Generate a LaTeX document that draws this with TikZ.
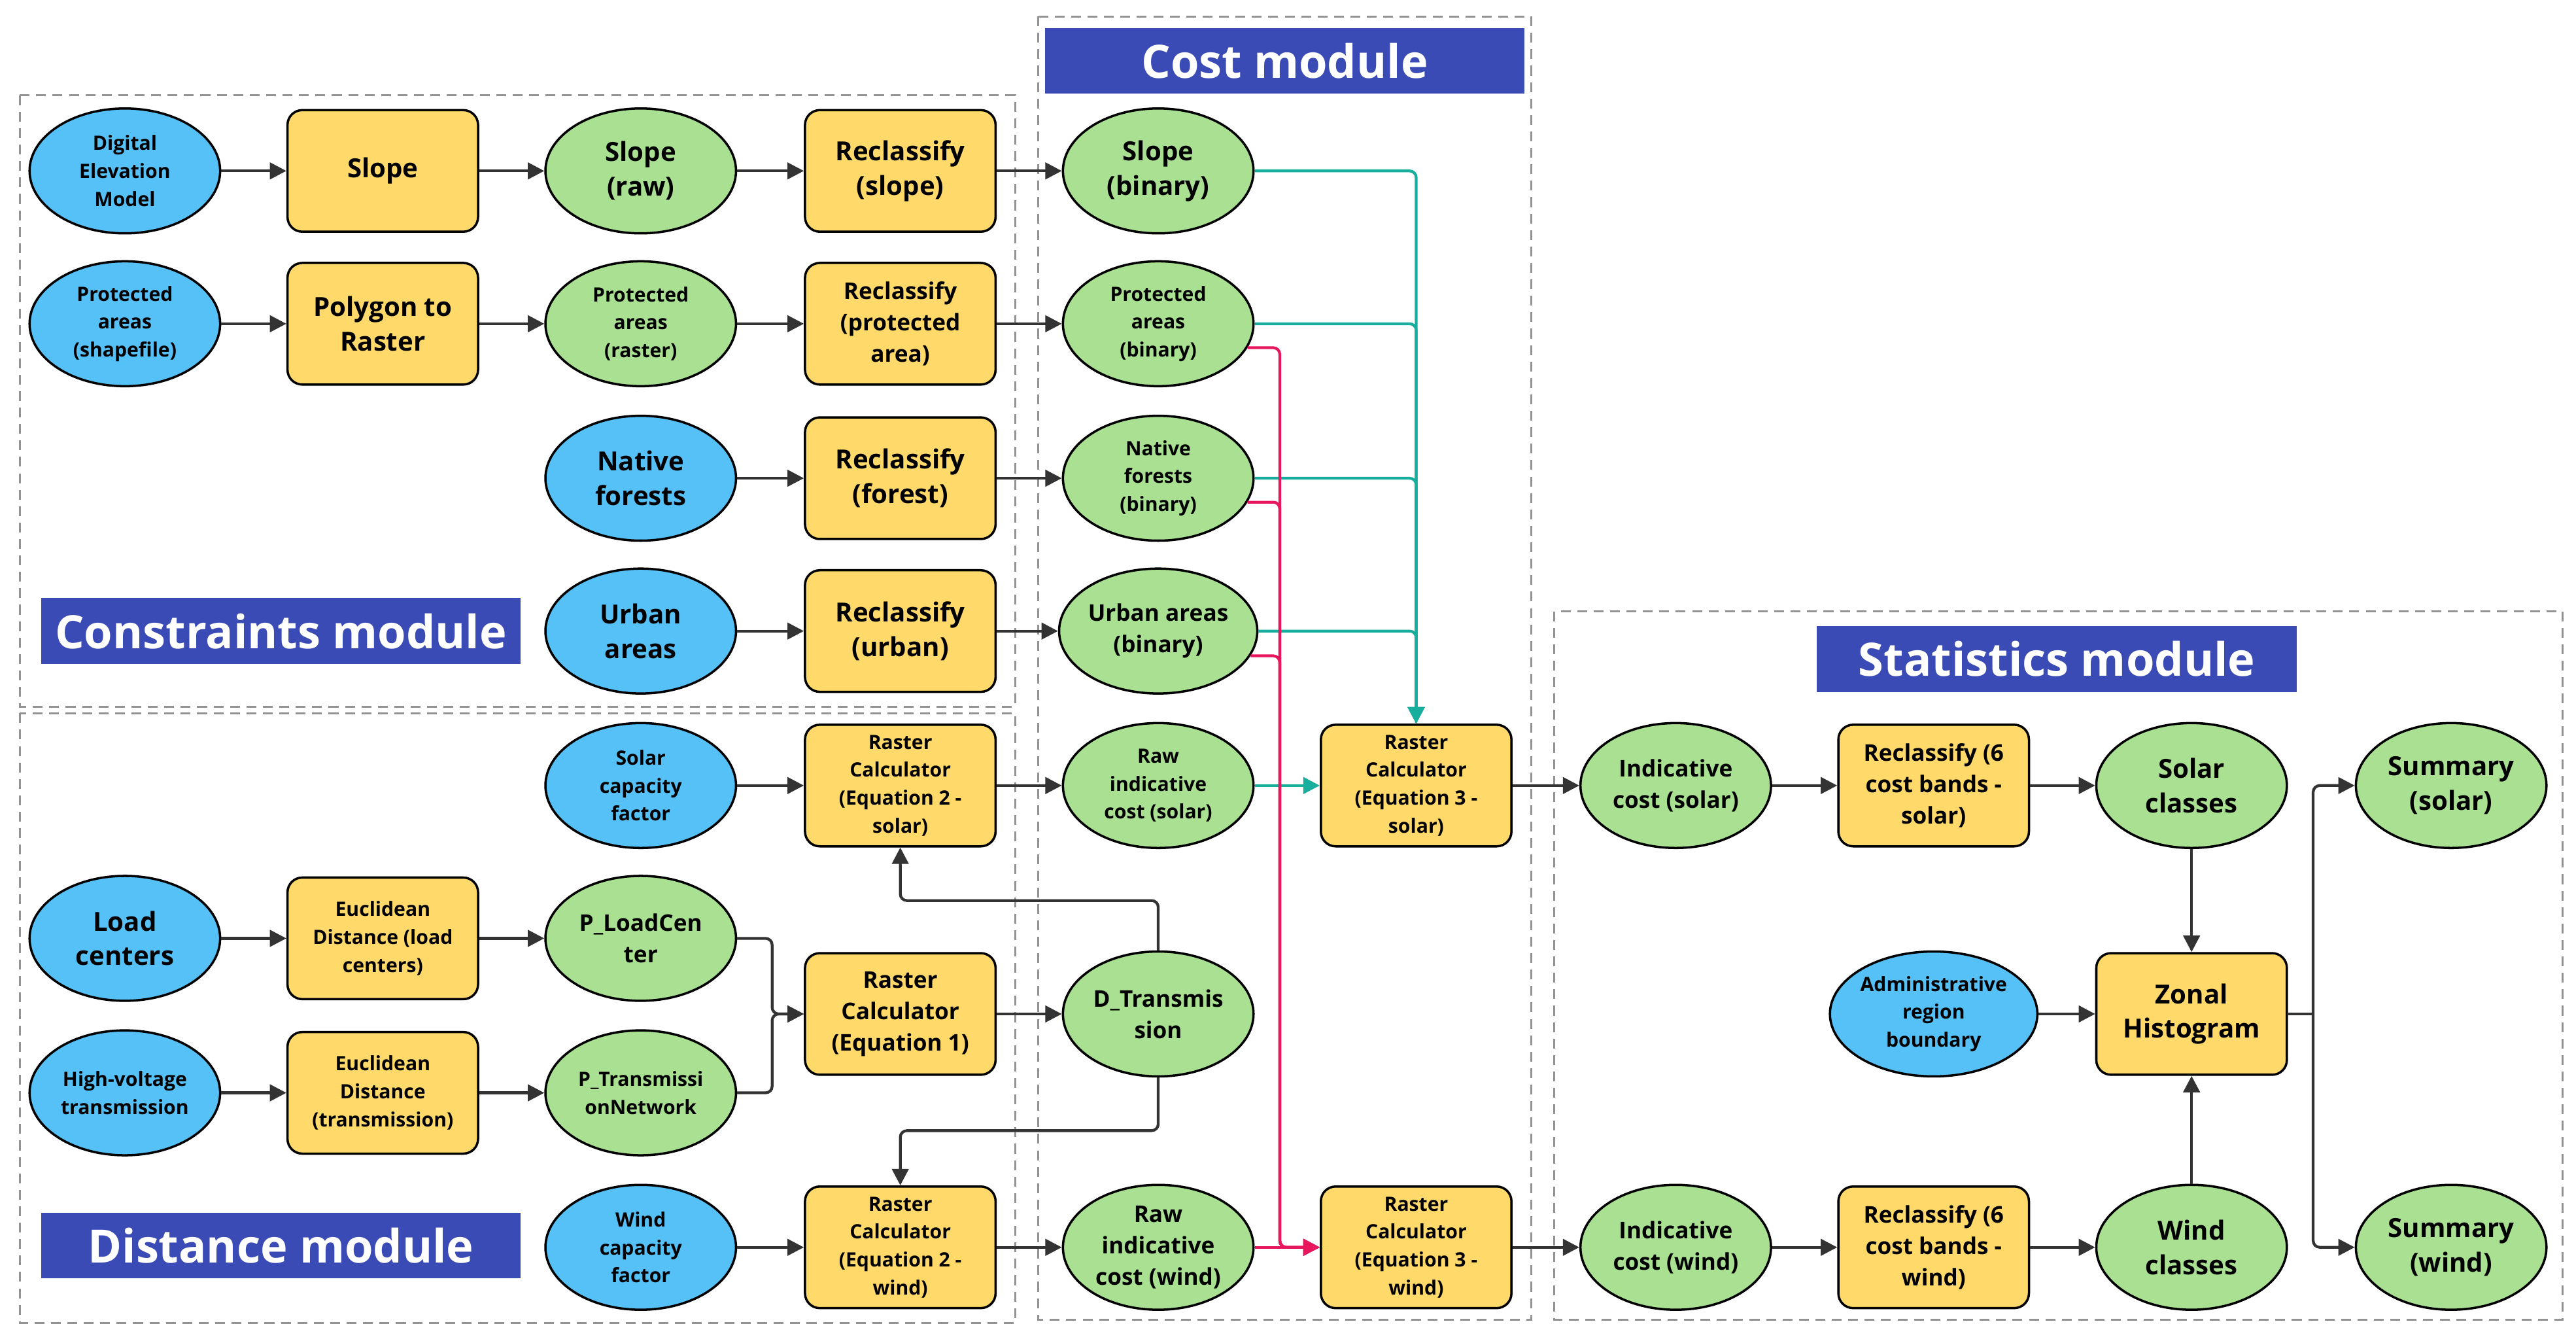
\documentclass[tikz,border=0pt]{standalone}
\usepackage{fontspec}
\setmainfont{Open Sans}
\usetikzlibrary{arrows.meta,calc,shapes.geometric}
\definecolor{cblue}{HTML}{56C1F7}
\definecolor{cgreen}{HTML}{A9E092}
\definecolor{cyel}{HTML}{FFDA6A}
\definecolor{ctitle}{HTML}{3B4BB5}
\definecolor{cteal}{HTML}{17AE9E}
\definecolor{cpink}{HTML}{E8175D}
\definecolor{cdark}{HTML}{333333}
\tikzset{
 base/.style={draw=black,line width=1.4pt,align=center,font=\bfseries,inner sep=0pt,minimum width=116pt},
 el/.style={base,ellipse,minimum height=76pt},
 bl/.style={el,fill=cblue},
 gr/.style={el,fill=cgreen},
 ye/.style={base,rectangle,rounded corners=9pt,fill=cyel,minimum height=74pt},
 L/.style={font=\bfseries\fontsize{16}{21}\selectfont},
 M/.style={font=\bfseries\fontsize{14}{19}\selectfont},
 S/.style={font=\bfseries\fontsize{12}{17}\selectfont},
 ar/.style={draw=cdark,line width=1.7pt,rounded corners=4pt,-{Triangle[width=10pt,length=10pt]}},
 ln/.style={draw=cdark,line width=1.7pt,rounded corners=4pt},
 te/.style={ar,draw=cteal,color=cteal},
 pk/.style={ar,draw=cpink,color=cpink},
 box/.style={draw=gray!85,line width=1.2pt,dash pattern=on 6pt off 4pt},
 ttl/.style={fill=ctitle,text=white,font=\bfseries\fontsize{28}{32}\selectfont,inner sep=0pt,minimum height=40pt,minimum width=292pt}
}
\begin{document}
\begin{tikzpicture}[x=1pt,y=-1pt]
\useasboundingbox (0,0) rectangle (1568,817);
\fill[white] (0,0) rectangle (1568,817);
% boxes
\draw[box] (12,58) rectangle (618,430);
\draw[box] (12,434) rectangle (618,805);
\draw[box] (632,10) rectangle (932,803);
\draw[box] (946,372) rectangle (1560,803);
\node[ttl] (tc) at (782,37) {Cost module};
\node[ttl] (tk) at (171,384) {Constraints module};
\node[ttl] (td) at (171,758) {Distance module};
\node[ttl] (ts) at (1252,401) {Statistics module};
% row 1
\node[bl,S] (dem) at (76,104) {Digital\\Elevation\\Model};
\node[ye,L] (slp) at (233,104) {Slope};
\node[gr,L] (sr) at (390,104) {Slope\\(raw)};
\node[ye,L] (rs) at (548,104) {Reclassify\\(slope)};
\node[gr,L] (sb) at (705,104) {Slope\\(binary)};
% row 2
\node[bl,S] (pas) at (76,197) {Protected\\areas\\(shapefile)};
\node[ye,L] (ptr) at (233,197) {Polygon to\\Raster};
\node[gr,S] (par) at (390,197) {Protected\\areas\\(raster)};
\node[ye,M] (rpa) at (548,197) {Reclassify\\(protected\\area)};
\node[gr,S] (pb) at (705,197) {Protected\\areas\\(binary)};
% row 3
\node[bl,L] (nf) at (390,291) {Native\\forests};
\node[ye,L] (rf) at (548,291) {Reclassify\\(forest)};
\node[gr,S] (nb) at (705,291) {Native\\forests\\(binary)};
% row 4
\node[bl,L] (ua) at (390,384) {Urban\\areas};
\node[ye,L] (ru) at (548,384) {Reclassify\\(urban)};
\node[gr,M] (ub) at (705,384) {Urban areas\\(binary)};
% row 5
\node[bl,S] (scf) at (390,478) {Solar\\capacity\\factor};
\node[ye,S] (rc2s) at (548,478) {Raster\\Calculator\\(Equation 2 -\\solar)};
\node[gr,S] (rics) at (705,478) {Raw\\indicative\\cost (solar)};
\node[ye,S] (rc3s) at (862,478) {Raster\\Calculator\\(Equation 3 -\\solar)};
\node[gr,M] (ics) at (1020,478) {Indicative\\cost (solar)};
\node[ye,M] (r6s) at (1177,478) {Reclassify (6\\cost bands -\\solar)};
\node[gr,L] (sc) at (1334,478) {Solar\\classes};
\node[gr,L] (sums) at (1492,478) {Summary\\(solar)};
% row 6
\node[bl,L] (lc) at (76,571) {Load\\centers};
\node[ye,S] (edl) at (233,571) {Euclidean\\Distance (load\\centers)};
\node[gr,M] (plc) at (390,571) {P\_LoadCen\\ter};
\node[ye,M] (rc1) at (548,617) {Raster\\Calculator\\(Equation 1)};
\node[gr,M] (dt) at (705,617) {D\_Transmis\\sion};
\node[bl,S] (adm) at (1177,617) {Administrative\\region\\boundary};
\node[ye,L] (zh) at (1334,617) {Zonal\\Histogram};
% row 7
\node[bl,S] (hv) at (76,665) {High-voltage\\transmission};
\node[ye,S] (edt) at (233,665) {Euclidean\\Distance\\(transmission)};
\node[gr,S] (ptn) at (390,665) {P\_Transmissi\\onNetwork};
% row 8
\node[bl,S] (wcf) at (390,759) {Wind\\capacity\\factor};
\node[ye,S] (rc2w) at (548,759) {Raster\\Calculator\\(Equation 2 -\\wind)};
\node[gr,M] (ricw) at (705,759) {Raw\\indicative\\cost (wind)};
\node[ye,S] (rc3w) at (862,759) {Raster\\Calculator\\(Equation 3 -\\wind)};
\node[gr,M] (icw) at (1020,759) {Indicative\\cost (wind)};
\node[ye,M] (r6w) at (1177,759) {Reclassify (6\\cost bands -\\wind)};
\node[gr,L] (wc) at (1334,759) {Wind\\classes};
\node[gr,L] (sumw) at (1492,759) {Summary\\(wind)};
% straight arrows
\foreach \a/\b in {dem/slp,slp/sr,sr/rs,rs/sb,pas/ptr,ptr/par,par/rpa,rpa/pb,nf/rf,rf/nb,ua/ru,ru/ub,
 scf/rc2s,rc2s/rics,rc3s/ics,ics/r6s,r6s/sc,lc/edl,edl/plc,hv/edt,edt/ptn,rc1/dt,adm/zh,
 wcf/rc2w,rc2w/ricw,rc3w/icw,icw/r6w,r6w/wc}
 \draw[ar] (\a) -- (\b);
\draw[ar] (sc) -- (zh);
\draw[ar] (wc) -- (zh);
% teal
\draw[te] (sb.east) -| (rc3s.north);
\draw[te] (pb.east) -| (rc3s.north);
\draw[te] (nb.east) -| (rc3s.north);
\draw[te] (ub.east) -| (rc3s.north);
\draw[te] (rics) -- (rc3s);
% pink
\coordinate (pkb) at (779,759);
\draw[pk] (pb.-15) -| (pkb) -- (rc3w.west);
\draw[pk] (nb.-15) -| (pkb) -- (rc3w.west);
\draw[pk] (ub.-15) -| (pkb) -- (rc3w.west);
\draw[pk] (ricw) -- (rc3w);
% joins
\coordinate (j1) at (470,617);
\draw[ar] (plc.east) -| (j1) -- (rc1.west);
\draw[ar] (ptn.east) -| (j1) -- (rc1.west);
\coordinate (u1) at (548,548);
\coordinate (u2) at (548,688);
\draw[ar] (dt.north) |- (u1) -- (rc2s.south);
\draw[ar] (dt.south) |- (u2) -- (rc2w.north);
\coordinate (zj) at (1408,617);
\draw[ln] (zh.east) -- (zj);
\draw[ar] (zj) |- (sums.west);
\draw[ar] (zj) |- (sumw.west);
\end{tikzpicture}
\end{document}
